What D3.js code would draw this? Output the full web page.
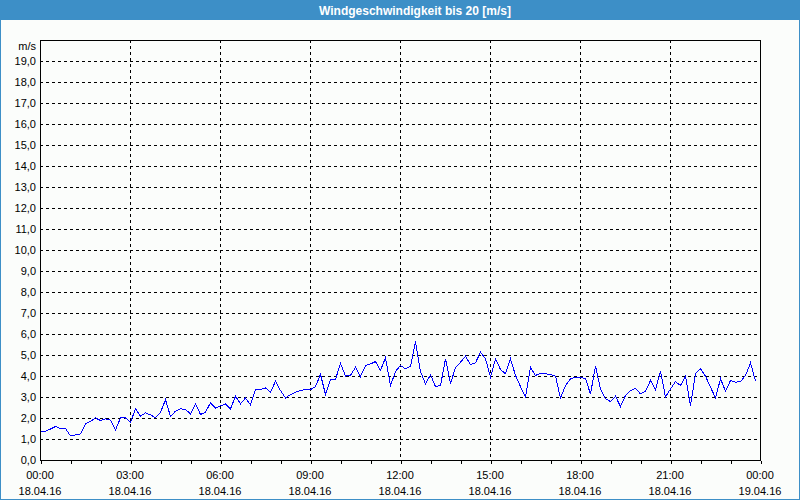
<!DOCTYPE html>
<html><head><meta charset="utf-8">
<script src="https://cdn.jsdelivr.net/npm/d3@7"></script>
<style>
body{margin:0;background:#fff}
svg{display:block}
text{font-family:"Liberation Sans",Arial,sans-serif}
</style></head><body><svg id="c" width="800" height="500"></svg>
<script>
const chartTitle = "Windgeschwindigkeit bis 20 [m/s]";
const unitLabel = "m/s";
const startTime = new Date(2016, 3, 18, 0, 0);
const endTime = new Date(2016, 3, 19, 0, 0);
const sampleMinutes = 10;
const windSpeed = [
  1.40,1.40,1.50,1.62,1.52,1.52,1.17,1.22,1.27,1.75,1.86,2.03,1.90,1.98,1.92,1.46,2.03,2.03,
  1.82,2.46,2.11,2.27,2.17,2.04,2.30,2.89,2.10,2.35,2.46,2.43,2.22,2.70,2.19,2.30,2.75,2.50,
  2.60,2.70,2.46,3.06,2.70,2.97,2.65,3.40,3.37,3.46,3.25,3.78,3.33,2.98,3.14,3.25,3.33,3.38,
  3.37,3.52,4.10,3.14,3.84,3.86,4.63,4.02,4.05,4.44,4.00,4.52,4.60,4.71,4.29,4.89,3.57,4.24,
  4.52,4.37,4.49,5.67,4.24,3.65,4.08,3.52,3.57,4.84,3.65,4.44,4.68,4.97,4.56,4.65,5.16,4.84,
  3.97,4.84,4.33,4.13,4.84,4.05,3.52,3.02,4.44,4.05,4.16,4.13,4.10,4.02,2.97,3.57,3.89,3.97,
  3.97,3.89,3.17,4.49,3.41,2.94,2.81,3.06,2.57,3.10,3.33,3.44,3.17,3.29,3.81,3.37,4.25,3.02,
  3.41,3.76,3.57,4.02,2.62,4.13,4.37,4.02,3.49,2.98,3.89,3.30,3.81,3.73,3.76,4.05,4.65,3.78
];
const timeTickLabels = ["00:00","03:00","06:00","09:00","12:00","15:00","18:00","21:00","00:00"];
const dateTickLabels = ["18.04.16","18.04.16","18.04.16","18.04.16","18.04.16","18.04.16","18.04.16","18.04.16","19.04.16"];
const yTickValues = [0,1,2,3,4,5,6,7,8,9,10,11,12,13,14,15,16,17,18,19];

const svg = d3.select("#c");
const W = 800, H = 500;
const m = {left: 40, right: 40, top: 40, bottom: 40};
const blue = "#3d8fc7";

svg.append("rect").attr("x",0).attr("y",0).attr("width",W).attr("height",H).attr("fill","#fbfdfb");
svg.append("rect").attr("x",0.5).attr("y",0.5).attr("width",W-1).attr("height",H-1)
  .attr("fill","none").attr("stroke",blue);
svg.append("rect").attr("x",0).attr("y",0).attr("width",W).attr("height",20).attr("fill",blue);
svg.append("text").attr("x",415).attr("y",14.5).attr("text-anchor","middle")
  .attr("fill","#fff").attr("font-weight","bold").attr("font-size","12px").text(chartTitle);

const x = d3.scaleTime().domain([startTime, endTime]).range([m.left, W - m.right]);
const y = d3.scaleLinear().domain([0, 20]).range([H - m.bottom, m.top]);

const data = windSpeed.map((v, i) => ({t: d3.timeMinute.offset(startTime, i * sampleMinutes), v}));

const locale = d3.formatLocale({decimal: ",", thousands: ".", grouping: [3], currency: ["", "€"]});
const yFmt = locale.format(".1f");

// horizontal grid
const g = svg.append("g").attr("shape-rendering","crispEdges");
g.selectAll("line.hg").data(yTickValues.filter(d => d > 0)).join("line")
  .attr("x1", m.left).attr("x2", W - m.right)
  .attr("y1", d => Math.round(y(d)) + 0.5).attr("y2", d => Math.round(y(d)) + 0.5)
  .attr("stroke","#000").attr("stroke-dasharray","3,3");

const gridTimes = d3.timeHour.every(3).range(startTime, d3.timeMinute.offset(endTime, 1));
g.selectAll("line.vg").data(gridTimes.slice(1, -1)).join("line")
  .attr("y1", m.top).attr("y2", H - m.bottom)
  .attr("x1", d => Math.round(x(d)) + 0.5).attr("x2", d => Math.round(x(d)) + 0.5)
  .attr("stroke","#000").attr("stroke-dasharray","3,3");

// line
svg.append("path").datum(data)
  .attr("fill","none").attr("stroke","#0000ff").attr("stroke-width",1)
  .attr("shape-rendering","crispEdges")
  .attr("d", d3.line().x(d => x(d.t) + 0.5).y(d => y(d.v) + 0.5));

// frame
svg.append("rect").attr("x", m.left + 0.5).attr("y", m.top + 0.5)
  .attr("width", W - m.left - m.right).attr("height", H - m.top - m.bottom)
  .attr("fill","none").attr("stroke","#000").attr("shape-rendering","crispEdges");

// y axis
const yAxis = d3.axisLeft(y).tickValues(yTickValues).tickSize(0).tickPadding(4).tickFormat(yFmt);
const ya = svg.append("g").attr("transform", `translate(${m.left},0)`).call(yAxis);
ya.select(".domain").remove();
ya.selectAll("text").attr("font-family","Liberation Sans, Arial, sans-serif").attr("font-size","11px").attr("fill","#000");
svg.append("text").attr("x", 36).attr("y", 50).attr("text-anchor","end")
  .attr("font-size","11px").attr("fill","#000").text(unitLabel);

// x axis
const xAxis = d3.axisBottom(x).ticks(d3.timeHour.every(1)).tickSize(3).tickFormat("");
const xa = svg.append("g").attr("transform", `translate(0.5,${H - m.bottom + 0.5})`)
  .attr("shape-rendering","crispEdges").call(xAxis);
xa.select(".domain").remove();
xa.selectAll("line").attr("stroke","#000");

const labelG = svg.append("g").attr("font-size","11px").attr("fill","#000").attr("text-anchor","middle");
labelG.selectAll("text.t").data(gridTimes).join("text")
  .attr("x", d => x(d)).attr("y", 479).text((d, i) => timeTickLabels[i]);
labelG.selectAll("text.d").data(gridTimes).join("text")
  .attr("x", d => x(d)).attr("y", 494.5).text((d, i) => dateTickLabels[i]);
</script></body></html>
